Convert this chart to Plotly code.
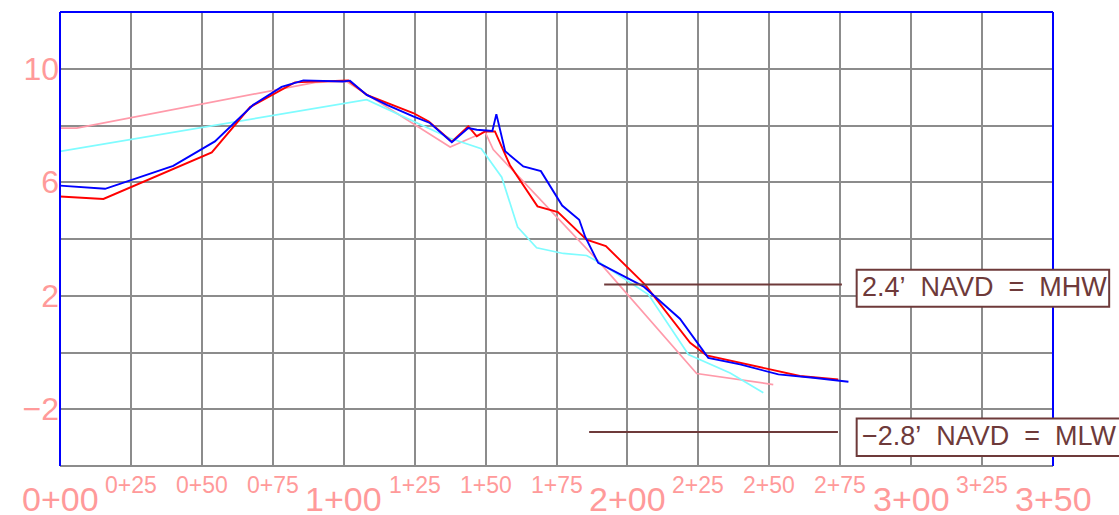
import plotly.graph_objects as go

# ---------------- data ----------------
major_stations = [0, 100, 200, 300, 350]
major_labels = ["0+00", "1+00", "2+00", "3+00", "3+50"]
minor_stations = [25, 50, 75, 125, 150, 175, 225, 250, 275, 325]
minor_labels = ["0+25", "0+50", "0+75", "1+25", "1+50", "1+75", "2+25", "2+50", "2+75", "3+25"]

y_grid = [-4, -2, 0, 2, 4, 6, 8, 10, 12]
y_labels = ["", "\u22122", "", "2", "", "6", "", "10", ""]

pink_x = [0, 5.9, 90, 101, 137.5, 149.8, 152.7, 190.3, 224.4, 251.4]
pink_y = [7.91, 7.91, 9.52, 9.55, 7.24, 7.78, 7.15, 3.16, -0.74, -1.13]

cyan_x = [0, 108.1, 137.5, 148.5, 155.7, 161.3, 168.0, 177.4, 185.6, 190.3, 207.4, 221.5, 236.2, 247.9]
cyan_y = [7.09, 8.91, 7.55, 7.18, 6.18, 4.42, 3.69, 3.49, 3.42, 3.16, 2.04, -0.07, -0.72, -1.42]

red_x = [0, 15.3, 53.5, 67.0, 82.8, 101.6, 108.1, 124.5, 130.0, 138.1, 143.9, 146.9, 149.8,
         153.3, 158.6, 168.3, 175.5, 185.6, 192.4, 206.2, 222.1, 227.9, 249.1, 260.8, 274.3]
red_y = [5.50, 5.41, 7.05, 8.65, 9.52, 9.59, 9.08, 8.44, 8.14, 7.43, 7.97, 7.62, 7.79,
         7.79, 6.60, 5.15, 4.95, 3.98, 3.75, 2.39, 0.34, -0.10, -0.57, -0.83, -0.95]

blue_x = [0, 15.9, 39.9, 54.6, 68.1, 78.1, 85.8, 99.9, 102.2, 108.1, 115.2, 124.5, 130.4,
          138.1, 143.9, 146.9, 152.4, 153.8, 156.9, 163.3, 169.5, 177.0, 183.0, 185.1,
          189.7, 197.4, 205.6, 218.5, 228.5, 239.7, 253.2, 265.5, 277.9]
blue_y = [5.88, 5.77, 6.58, 7.44, 8.73, 9.36, 9.59, 9.55, 9.58, 9.08, 8.73, 8.32, 8.09,
          7.41, 7.91, 7.85, 7.81, 8.40, 7.09, 6.56, 6.39, 5.18, 4.68, 4.08,
          3.16, 2.75, 2.33, 1.19, -0.19, -0.42, -0.77, -0.89, -1.03]

datum_levels = [2.4, -2.8]
datum_labels = ["2.4\u2019\u00a0 NAVD\u00a0 =\u00a0 MHW", "\u22122.8\u2019\u00a0 NAVD\u00a0 =\u00a0 MLW"]

# ---------------- styling ----------------
X_MAX, Y_MIN, Y_MAX = 350, -4, 12
LABEL_PINK = "#ff9a9a"
GRID = "#8c8c8c"
BROWN = "#6e3a3a"
FONT = "Liberation Sans"


def xd(x):
    return x / X_MAX


def yd(y):
    return (y - Y_MIN) / (Y_MAX - Y_MIN)


fig = go.Figure()
for xs, ys, col, w in [(pink_x, pink_y, "#ff9aaa", 1.7),
                       (cyan_x, cyan_y, "#7ffcff", 1.7),
                       (red_x, red_y, "#ff0000", 1.9),
                       (blue_x, blue_y, "#0000ff", 1.9)]:
    fig.add_trace(go.Scatter(x=xs, y=ys, mode="lines", line=dict(color=col, width=w),
                             hoverinfo="skip", showlegend=False))

shapes = [
    dict(type="line", xref="paper", yref="paper", x0=0, x1=1, y0=0, y1=0, line=dict(color=GRID, width=2)),
    dict(type="line", xref="paper", yref="paper", x0=0, x1=1, y0=1, y1=1, line=dict(color="#0000ff", width=2)),
    dict(type="line", xref="paper", yref="paper", x0=0, x1=0, y0=0, y1=1, line=dict(color="#0000ff", width=2)),
    dict(type="line", xref="paper", yref="paper", x0=1, x1=1, y0=0, y1=1, line=dict(color="#0000ff", width=2)),
]

# datum lines + boxes
line_spans = [(191.8, 275.6), (186.5, 274.2)]
box_spans = [((280.8, 369.8), (1.61, 2.92)), ((280.8, 420.0), (-3.65, -2.33))]
annotations = []
for lvl, lab, (lx0, lx1), ((bx0, bx1), (by0, by1)) in zip(datum_levels, datum_labels, line_spans, box_spans):
    shapes.append(dict(type="line", xref="x", yref="y", x0=lx0, x1=lx1, y0=lvl, y1=lvl,
                       line=dict(color=BROWN, width=2)))
    shapes.append(dict(type="rect", xref="x domain", yref="y domain",
                       x0=xd(bx0), x1=xd(bx1), y0=yd(by0), y1=yd(by1),
                       fillcolor="white", line=dict(color=BROWN, width=2), layer="above"))
    annotations.append(dict(xref="x domain", yref="y domain", x=xd(bx0 + 1.0), y=yd((by0 + by1) / 2 + 0.06),
                            xanchor="left", yanchor="middle", text=lab, showarrow=False,
                            font=dict(family=FONT, size=27, color=BROWN)))

for s, lab in zip(major_stations, major_labels):
    annotations.append(dict(xref="x", yref="paper", x=s, y=-0.073, xanchor="center", yanchor="middle",
                            text=lab, showarrow=False, font=dict(family=FONT, size=34, color=LABEL_PINK)))
for s, lab in zip(minor_stations, minor_labels):
    annotations.append(dict(xref="x", yref="paper", x=s, y=-0.042, xanchor="center", yanchor="middle",
                            text=lab, showarrow=False, font=dict(family=FONT, size=23, color=LABEL_PINK)))

fig.update_layout(
    width=1119, height=515,
    margin=dict(l=60, r=66, t=12, b=49, pad=0),
    plot_bgcolor="white", paper_bgcolor="white",
    showlegend=False,
    shapes=shapes,
    annotations=annotations,
    xaxis=dict(range=[0, X_MAX], tick0=0, dtick=25, showgrid=True, gridcolor=GRID, gridwidth=2,
               showticklabels=False, zeroline=False, showline=False, ticks="", fixedrange=True,
               automargin=False),
    yaxis=dict(range=[Y_MIN, Y_MAX], tickmode="array", tickvals=y_grid, ticktext=y_labels,
               showgrid=True, gridcolor=GRID, gridwidth=2, zeroline=False, showline=False,
               ticks="", tickfont=dict(family=FONT, size=32, color=LABEL_PINK), fixedrange=True,
               automargin=False),
)

fig.write_html("out.html", config={"displayModeBar": False},
               post_script="document.body.style.margin='0';")
